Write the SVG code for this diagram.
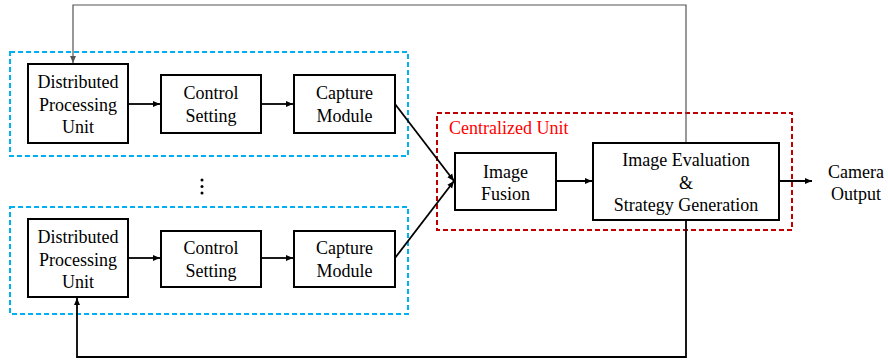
<svg xmlns="http://www.w3.org/2000/svg" width="888" height="360" viewBox="0 0 888 360">
  <defs>
    <marker id="arr" markerWidth="8" markerHeight="8" refX="7" refY="4" orient="auto" markerUnits="userSpaceOnUse">
      <path d="M0,1 L7,4 L0,7 Z" fill="#000"/>
    </marker>
    <marker id="arrGray" markerWidth="8" markerHeight="8" refX="7" refY="4" orient="auto" markerUnits="userSpaceOnUse">
      <path d="M0,1 L7,4 L0,7 Z" fill="#555"/>
    </marker>
  </defs>
  <style>
    .box { fill: #fff; stroke: #000; stroke-width: 2; }
    .lbl { font-size: 18px; fill: #000; text-anchor: middle; }
    .grp-blue { fill: none; stroke: #00B0F0; stroke-width: 2; stroke-dasharray: 5 3; }
    .grp-red { fill: none; stroke: #C00000; stroke-width: 2; stroke-dasharray: 5 3; }
    .title-red { font-size: 18px; fill: #FF0000; }
    .wire { fill: none; stroke: #000; stroke-width: 1.8; }
    .thin { fill: none; stroke: #555; stroke-width: 1.2; }
  </style>

  <g font-family="'Liberation Serif', Tinos, 'Times New Roman', Times, 'DejaVu Serif', serif">
  <!-- group frames -->
  <rect class="grp-blue" x="10" y="52" width="398" height="104"/>
  <rect class="grp-blue" x="10" y="207" width="398" height="107"/>
  <rect class="grp-red" x="437" y="113" width="355" height="117"/>
  <text class="title-red" x="449" y="134">Centralized Unit</text>

  <!-- connectors -->
  <g id="connectors">
    <!-- feedback to the upper distributed unit -->
    <polyline class="thin" points="686,143 686,5 73,5 73,63" marker-end="url(#arrGray)"/>
    <!-- feedback to the lower distributed unit -->
    <polyline class="wire" points="686,220 686,357 77,357 77,298" marker-end="url(#arr)"/>
    <line class="wire" x1="128" y1="104" x2="160" y2="104" marker-end="url(#arr)"/>
    <line class="wire" x1="261" y1="104" x2="293" y2="104" marker-end="url(#arr)"/>
    <line class="wire" x1="128" y1="258" x2="160" y2="258" marker-end="url(#arr)"/>
    <line class="wire" x1="261" y1="258" x2="293" y2="258" marker-end="url(#arr)"/>
    <line class="wire" x1="395" y1="104" x2="454" y2="181" marker-end="url(#arr)"/>
    <line class="wire" x1="395" y1="258" x2="454" y2="181" marker-end="url(#arr)"/>
    <line class="wire" x1="556" y1="181" x2="592" y2="181" marker-end="url(#arr)"/>
    <line class="wire" x1="779" y1="181" x2="812" y2="181" marker-end="url(#arr)"/>
  </g>

  <!-- upper chain -->
  <g id="dpu1">
    <rect class="box" x="28" y="64" width="100" height="79"/>
    <text class="lbl" x="78" y="88">Distributed</text>
    <text class="lbl" x="78" y="110.5">Processing</text>
    <text class="lbl" x="78" y="133">Unit</text>
  </g>
  <g id="control1">
    <rect class="box" x="161" y="75" width="100" height="58"/>
    <text class="lbl" x="211" y="98.5">Control</text>
    <text class="lbl" x="211" y="121.5">Setting</text>
  </g>
  <g id="capture1">
    <rect class="box" x="294" y="75" width="101" height="58"/>
    <text class="lbl" x="344.5" y="98.5">Capture</text>
    <text class="lbl" x="344.5" y="121.5">Module</text>
  </g>

  <!-- ellipsis between chains -->
  <g id="ellipsis" fill="#000">
    <circle cx="202" cy="180" r="1.5"/>
    <circle cx="202" cy="186.5" r="1.5"/>
    <circle cx="202" cy="193" r="1.5"/>
  </g>

  <!-- lower chain -->
  <g id="dpu2">
    <rect class="box" x="28" y="219" width="100" height="78"/>
    <text class="lbl" x="78" y="243">Distributed</text>
    <text class="lbl" x="78" y="265.5">Processing</text>
    <text class="lbl" x="78" y="288">Unit</text>
  </g>
  <g id="control2">
    <rect class="box" x="161" y="231" width="100" height="56"/>
    <text class="lbl" x="211" y="253.5">Control</text>
    <text class="lbl" x="211" y="276.5">Setting</text>
  </g>
  <g id="capture2">
    <rect class="box" x="294" y="231" width="101" height="56"/>
    <text class="lbl" x="344.5" y="253.5">Capture</text>
    <text class="lbl" x="344.5" y="276.5">Module</text>
  </g>

  <!-- centralized unit -->
  <g id="fusion">
    <rect class="box" x="455" y="153" width="101" height="57"/>
    <text class="lbl" x="505.5" y="178">Image</text>
    <text class="lbl" x="505.5" y="200">Fusion</text>
  </g>
  <g id="evaluation">
    <rect class="box" x="593" y="143" width="186" height="77"/>
    <text class="lbl" x="686" y="166">Image Evaluation</text>
    <text class="lbl" x="686" y="189">&amp;</text>
    <text class="lbl" x="686" y="211">Strategy Generation</text>
  </g>

  <g id="output">
    <text class="lbl" x="856" y="178">Camera</text>
    <text class="lbl" x="856" y="200">Output</text>
  </g>
  </g>
</svg>
